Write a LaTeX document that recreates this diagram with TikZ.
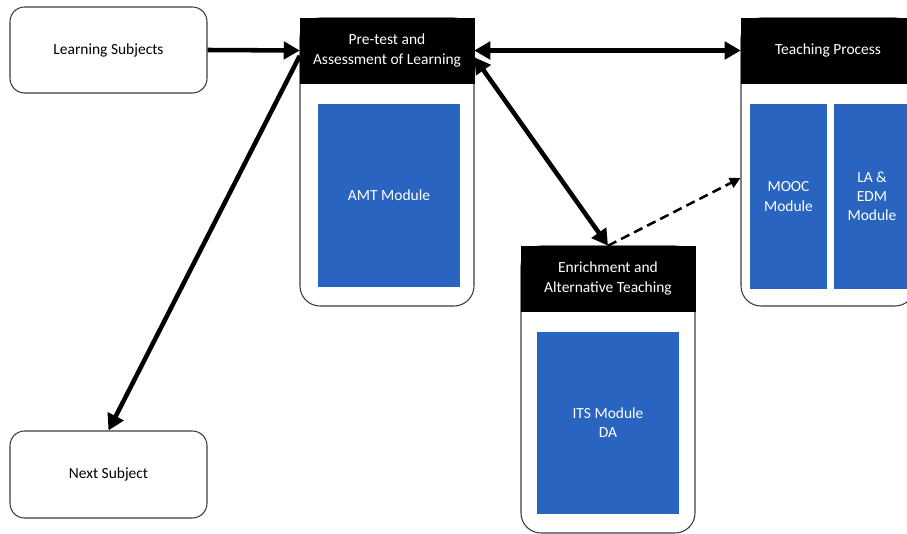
\documentclass[tikz,border=0pt]{standalone}
\usepackage{fontspec}
\setmainfont{Carlito}
\usetikzlibrary{arrows.meta,calc}
\definecolor{modblue}{RGB}{40,100,192}
\definecolor{edge}{RGB}{60,60,60}
\begin{document}
\begin{tikzpicture}[x=0.75pt,y=-0.75pt,
  every node/.style={font=\fontsize{11.6}{14.4}\selectfont, align=center, inner sep=0pt},
  sbox/.style={draw=edge, line width=0.8pt, rounded corners=11pt, fill=white},
  cont/.style={draw=edge, line width=0.8pt, rounded corners=15pt, fill=white, minimum width=130.5pt},
  hdr/.style={fill=black, draw=black, text=white, minimum width=130.5pt, minimum height=48.75pt},
  mod/.style={fill=modblue, text=white},
  arr/.style={line width=3.4pt, -{Triangle[length=12pt,width=13pt]}},
  darr/.style={line width=3.4pt, {Triangle[length=12pt,width=13pt]}-{Triangle[length=12pt,width=13pt]}},
  dash arr/.style={line width=1.9pt, dash pattern=on 7pt off 4pt, -{Triangle[length=8pt,width=8pt]}}
]
\clip (0,0) rectangle (907,534);
\fill[white] (0,0) rectangle (907,534);

% left boxes
\node[sbox, minimum width=147.75pt, minimum height=64.5pt] (ls) at (108.5,50) {Learning Subjects};
\node[sbox, minimum width=147.75pt, minimum height=65.25pt] (ns) at (108.5,474.5) {Next Subject};

% Pre-test container
\node[cont, minimum height=216pt] (pre) at (387,162) {};
\node[hdr] (preh) at (387,50.5) {Pre-test and\\Assessment of Learning};
\node[mod, minimum width=106.5pt, minimum height=137.25pt] (amt) at (389,195.5) {AMT Module};

% Teaching process container
\node[cont, minimum height=216pt] (tp) at (828,162) {};
\node[hdr] (tph) at (828,50.5) {Teaching Process};
\node[mod, minimum width=57.75pt, minimum height=138.75pt] (mooc) at (788.5,196.5) {MOOC\\Module};
\node[mod, minimum width=57pt, minimum height=138.75pt] (laedm) at (872,196.5) {LA \&\\EDM\\Module};

% Enrichment container
\node[cont, minimum height=215.25pt] (en) at (608,389.5) {};
\node[hdr] (enh) at (608,278.5) {Enrichment and\\Alternative Teaching};
\node[mod, minimum width=106.5pt, minimum height=136.5pt] (its) at (608,423) {ITS Module\\DA};

% connectors
\coordinate (tpin) at ($(tp.west)+(0,16)$);
\draw[arr] (ls.east) -- (preh.west);
\draw[darr] (preh.east) -- (tph.west);
\draw[darr] ([yshift=-5]preh.east) -- (enh.north);
\draw[arr] ([yshift=-4]preh.west) -- (ns.north);
\draw[dash arr] (enh.north) -- (tpin);
\end{tikzpicture}
\end{document}
